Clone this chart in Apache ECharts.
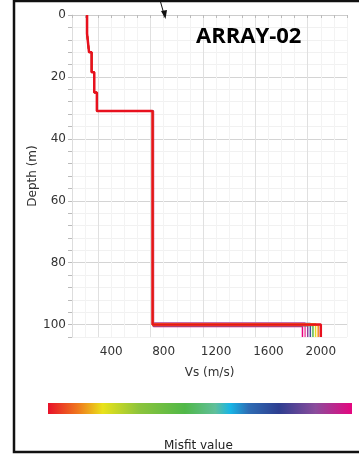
<!DOCTYPE html>
<html>
<head>
<meta charset="utf-8">
<script src="https://cdn.jsdelivr.net/npm/echarts@6/dist/echarts.min.js"></script>
<style>
  html, body { margin: 0; padding: 0; background: #fff; }
  #chart { width: 359px; height: 455px; }
</style>
</head>
<body>
<div id="chart"></div>
<script>
// layer interfaces (m) and Vs (m/s) for the best model
const depths = [6, 12, 18.5, 25, 31, 100];
const vsBest = [215, 230, 250, 270, 290, 715, 2000];

// other models: half-space Vs and interface depth of last layer, worst first
const altHalfspace = [1860, 1880, 1900, 1920, 1940, 1960, 1980];
const altLastDepth = [100.6, 99.5, 100.4, 99.6, 100.3, 99.7, 100.2];
const altVs = [722, 720, 718, 719, 717, 716, 715];
const altColors = ['#e6007e', '#f04ea0', '#8e3f9a', '#3a4fa0', '#5cb846', '#e8d820', '#f28c1e'];

const maxDepth = 104;
const xTicks = [400, 800, 1200, 1600, 2000];
const yTicks = [0, 20, 40, 60, 80, 100];

function profile(vs, ds) {
  let pts = [[vs[0], 0]];
  for (let i = 0; i < ds.length; i++) {
    pts.push([vs[i], ds[i]]);
    pts.push([vs[i + 1], ds[i]]);
  }
  pts.push([vs[vs.length - 1], maxDepth]);
  return pts;
}

let series = [];
altHalfspace.forEach((hs, i) => {
  let vs = vsBest.slice(0, 5).concat([altVs[i], hs]);
  let ds = depths.slice(0, 5).concat([altLastDepth[i]]);
  series.push({
    type: 'line', data: profile(vs, ds), symbol: 'none', silent: true,
    lineStyle: { color: altColors[i], width: 1.5 }
  });
});
series.push({
  type: 'line', data: profile(vsBest, depths), symbol: 'none', silent: true,
  lineStyle: { color: '#e8111e', width: 2.5 }
});

const chart = echarts.init(document.getElementById('chart'));
chart.setOption({
  animation: false,
  title: {
    text: 'ARRAY-02', left: 191, top: 21,
    textStyle: { fontFamily: 'Open Sans', fontWeight: 'bold', fontSize: 22, color: '#000' }
  },
  grid: { left: 72, top: 15, right: 12, bottom: 118 },
  xAxis: {
    type: 'value', min: 100, max: 2200, interval: 100,
    name: 'Vs (m/s)', nameLocation: 'middle', nameGap: 30,
    nameTextStyle: { fontFamily: 'DejaVu Sans', fontSize: 12, color: '#333' },
    axisLine: { show: true, lineStyle: { color: '#ccc' } },
    axisTick: { show: true, length: 3, lineStyle: { color: '#bbb' } },
    axisLabel: {
      fontFamily: 'DejaVu Sans', fontSize: 12, color: '#333', margin: 9,
      formatter: v => xTicks.includes(v) ? String(v) : ''
    },
    splitLine: { lineStyle: { color: ['#f3f3f3', '#f3f3f3', '#e0e0e0', '#f3f3f3'] } }
  },
  yAxis: {
    type: 'value', inverse: true, min: 0, max: maxDepth, interval: 4,
    name: 'Depth (m)', nameLocation: 'middle', nameGap: 33, nameMoveOverlap: false,
    nameTextStyle: { fontFamily: 'DejaVu Sans', fontSize: 12, color: '#333' },
    axisLine: { show: true, lineStyle: { color: '#ddd' } },
    axisTick: { show: true, length: 4, lineStyle: { color: '#bbb' } },
    axisLabel: {
      fontFamily: 'DejaVu Sans', fontSize: 12, color: '#333', margin: 6,
      formatter: v => yTicks.includes(v) ? String(v) : ''
    },
    splitLine: { lineStyle: { color: ['#d4d4d4', '#f1f1f1', '#f1f1f1', '#f1f1f1', '#f1f1f1'] } }
  },
  series: series,
  graphic: [
    {
      type: 'rect', shape: { x: 14, y: 1, width: 360, height: 451 },
      style: { fill: 'none', stroke: '#111', lineWidth: 2.5 }, z: 100
    },
    {
      type: 'line', shape: { x1: 160, y1: 0, x2: 164.5, y2: 16 },
      style: { stroke: '#111', lineWidth: 1 }, z: 100
    },
    {
      type: 'polygon', shape: { points: [[165.5, 19], [161, 11], [167, 10]] },
      style: { fill: '#111' }, z: 100
    },
    {
      type: 'rect', shape: { x: 48, y: 403, width: 304, height: 11 },
      style: {
        fill: new echarts.graphic.LinearGradient(0, 0, 1, 0, [
          { offset: 0, color: '#e8112a' },
          { offset: 0.1, color: '#ef7a1d' },
          { offset: 0.18, color: '#e9e21a' },
          { offset: 0.3, color: '#8cc43c' },
          { offset: 0.45, color: '#50b848' },
          { offset: 0.55, color: '#60bf9a' },
          { offset: 0.6, color: '#17b5e6' },
          { offset: 0.66, color: '#2e6cb4' },
          { offset: 0.76, color: '#2e3e90' },
          { offset: 0.88, color: '#8b4c9c' },
          { offset: 1, color: '#e5067f' }
        ])
      }
    },
    {
      type: 'text', left: 164, top: 440,
      style: { text: 'Misfit value', fontFamily: 'DejaVu Sans', fontSize: 12, fill: '#222' }
    }
  ]
});
</script>
</body>
</html>
